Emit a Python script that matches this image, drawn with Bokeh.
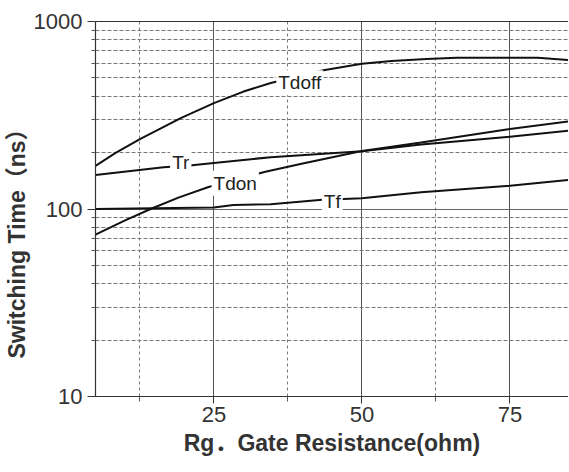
from bokeh.plotting import figure
from bokeh.models import FixedTicker, LinearAxis, Label, PrintfTickFormatter, Range1d, Title
from bokeh.embed import file_html
from bokeh.resources import INLINE

# ---- data ----
tdoff_x = [5, 8.4, 12.5, 19.4, 25, 30, 34.6, 43.5, 50, 55, 60.9, 66, 72, 79.7, 85]
tdoff_y = [170, 199, 236, 305, 367, 423, 470, 550, 596, 615, 631, 640, 640, 640, 622]

tr_x = [5, 16.5, 21.3, 25, 34.6, 50, 60, 75, 85]
tr_y = [152, 167, 171, 176, 189, 203, 221, 243, 262]

tdon_x = [5, 10, 14.3, 19, 24.1, 33.7, 40, 50, 60, 75, 85]
tdon_y = [73, 87, 100, 115, 131, 158, 175, 204, 226, 267, 293]

tf_x = [5, 25, 28.3, 34.6, 43.3, 46.9, 50, 60, 75, 85]
tf_y = [100, 102, 105, 106, 112, 113, 114, 123, 133, 143]

series_names = ["Tdoff", "Tr", "Tdon", "Tf"]
label_x = [39.5, 19.4, 28.6, 45.0]
label_y = [472, 176, 137, 110]

x_major = [25, 50, 75]
x_minor = [12.5, 37.5, 62.5]
y_major = [10, 100, 1000]
y_minor = [20, 30, 40, 50, 60, 70, 80, 90, 200, 300, 400, 500, 600, 700, 800, 900]

X_START, X_END = 5, 84.9
Y_START, Y_END = 10, 1000

FONT = "Liberation Sans"
FONT_AX = "'Liberation Sans', 'Noto Sans CJK SC'"

p = figure(width=568, height=470, y_axis_type="log",
           x_range=Range1d(X_START, X_END), y_range=Range1d(Y_START, Y_END),
           output_backend="svg", toolbar_location=None,
           min_border_left=95, min_border_right=0, min_border_top=21, min_border_bottom=74)
p.outline_line_color = None
p.background_fill_color = "white"

# axes
p.xaxis.ticker = FixedTicker(ticks=x_major, minor_ticks=x_minor)
p.yaxis.ticker = FixedTicker(ticks=y_major, minor_ticks=y_minor)
p.yaxis.formatter = PrintfTickFormatter(format="%d")

for ax in (p.xaxis[0], p.yaxis[0]):
    ax.axis_line_color = "#333333"
    ax.axis_line_width = 1.2
    ax.major_tick_line_color = "#333333"
    ax.minor_tick_line_color = "#555555"
    ax.major_label_text_font = FONT
    ax.major_label_text_font_size = "22px"
    ax.major_label_text_color = "#333333"
    ax.axis_label_text_font = FONT_AX
    ax.axis_label_text_font_style = "bold"
    ax.axis_label_text_font_size = "23px"
    ax.axis_label_text_color = "#333333"

p.xaxis.major_tick_out = 7
p.xaxis.major_tick_in = 0
p.xaxis.minor_tick_out = 5
p.xaxis.minor_tick_in = 0
p.xaxis.major_label_standoff = 3
p.xaxis.axis_label_standoff = 5
p.xaxis.axis_label = "Rg．Gate Resistance(ohm)"

p.yaxis.major_tick_out = 8
p.yaxis.major_tick_in = 0
p.yaxis.minor_tick_out = 4
p.yaxis.minor_tick_in = 0
p.yaxis.major_label_standoff = 5

ytitle = Title(text="Switching Time（ns）", align="left", offset=38, standoff=1,
               text_font=FONT_AX, text_font_size="23px", text_font_style="bold",
               text_color="#333333")
p.add_layout(ytitle, "left")

top = LinearAxis(ticker=FixedTicker(ticks=[]), major_label_text_font_size="0px",
                 major_tick_line_color=None, minor_tick_line_color=None,
                 axis_line_color="#333333", axis_line_width=1.2)
p.add_layout(top, "above")

# grids
p.xgrid.grid_line_color = "#555555"
p.xgrid.grid_line_width = 1
p.xgrid.minor_grid_line_color = "#777777"
p.xgrid.minor_grid_line_dash = "3 3"
p.ygrid.grid_line_color = "#666666"
p.ygrid.grid_line_width = 1
p.ygrid.minor_grid_line_color = "#777777"
p.ygrid.minor_grid_line_dash = "4 2"

# curves
for xs, ys in ((tdoff_x, tdoff_y), (tr_x, tr_y), (tdon_x, tdon_y), (tf_x, tf_y)):
    p.line(xs, ys, line_color="#111111", line_width=2)

# in-line labels
for name, lx, ly in zip(series_names, label_x, label_y):
    p.add_layout(Label(x=lx, y=ly, text=name, text_align="center", text_baseline="middle",
                       text_font=FONT, text_font_size="19px", text_color="#222222",
                       background_fill_color="white", background_fill_alpha=1.0,
                       padding=2))

open("out.html", "w").write(file_html(p, INLINE))
